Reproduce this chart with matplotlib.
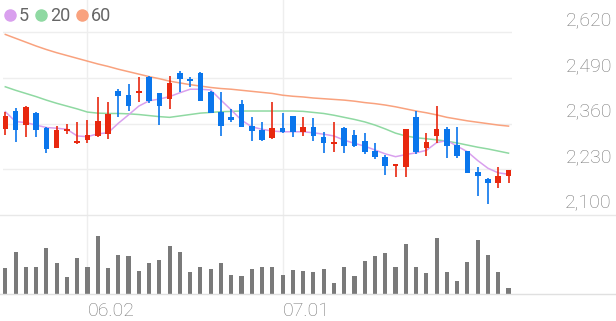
import matplotlib
matplotlib.use("Agg")
import matplotlib.pyplot as plt
import matplotlib.transforms as mtransforms
from matplotlib.lines import Line2D
import numpy as np

plt.rcParams['font.family'] = ['Roboto', 'DejaVu Sans']

# daily candles (open, high, low, close)
opens = [2345, 2397, 2356, 2391, 2347, 2290, 2340, 2304, 2313, 2325,
         2331, 2454, 2441, 2446, 2492, 2446, 2430, 2503, 2487, 2503,
         2451, 2392, 2380, 2416, 2353, 2342, 2318, 2347, 2382, 2337,
         2351, 2323, 2301, 2347, 2328, 2311, 2282, 2266, 2240, 2236,
         2378, 2290, 2325, 2344, 2299, 2282, 2221, 2202, 2190, 2211]
highs = [2393, 2404, 2410, 2394, 2350, 2353, 2359, 2366, 2370, 2437,
         2421, 2458, 2473, 2492, 2496, 2448, 2496, 2511, 2492, 2506,
         2454, 2451, 2401, 2427, 2378, 2366, 2421, 2389, 2382, 2378,
         2377, 2335, 2366, 2350, 2342, 2332, 2306, 2271, 2242, 2344,
         2397, 2332, 2411, 2350, 2350, 2282, 2236, 2204, 2236, 2228]
lows = [2327, 2309, 2323, 2323, 2277, 2290, 2330, 2302, 2306, 2323,
        2315, 2380, 2397, 2422, 2418, 2356, 2402, 2451, 2463, 2424,
        2389, 2326, 2366, 2350, 2311, 2311, 2316, 2334, 2321, 2326,
        2311, 2277, 2280, 2277, 2294, 2274, 2258, 2214, 2207, 2207,
        2275, 2268, 2304, 2263, 2261, 2219, 2154, 2131, 2176, 2192]
closes = [2383, 2342, 2406, 2342, 2287, 2342, 2345, 2311, 2328, 2367,
          2387, 2440, 2410, 2454, 2425, 2410, 2477, 2486, 2481, 2425,
          2389, 2354, 2370, 2350, 2340, 2313, 2347, 2335, 2335, 2351,
          2325, 2306, 2309, 2296, 2296, 2278, 2266, 2240, 2242, 2344,
          2278, 2309, 2344, 2296, 2269, 2219, 2211, 2190, 2212, 2228]
volumes = [77, 125, 82, 82, 138, 92, 52, 109, 80, 173,
           79, 118, 113, 70, 92, 102, 144, 125, 67, 82,
           76, 92, 58, 55, 75, 80, 80, 57, 71, 69,
           67, 76, 33, 82, 55, 100, 115, 123, 81, 150,
           82, 64, 169, 65, 39, 95, 162, 117, 65, 18]

# moving averages as shown on the chart
ma5 = [2394, 2366, 2363, 2356, 2349, 2347, 2344, 2325, 2323, 2331,
       2334, 2361, 2385, 2410, 2425, 2430, 2437, 2448, 2458, 2458,
       2456, 2427, 2399, 2370, 2351, 2344, 2339, 2337, 2337, 2337,
       2334, 2330, 2325, 2313, 2304, 2296, 2285, 2274, 2266, 2272,
       2277, 2284, 2306, 2312, 2296, 2280, 2255, 2233, 2220, 2216]
ma20 = [2465, 2455, 2446, 2437, 2427, 2418, 2410, 2402, 2393, 2390,
        2389, 2389, 2388, 2386, 2383, 2380, 2378, 2382, 2386, 2390,
        2392, 2394, 2395, 2396, 2396, 2396, 2396, 2396, 2396, 2395,
        2392, 2389, 2384, 2378, 2372, 2365, 2356, 2345, 2333, 2325,
        2320, 2317, 2314, 2310, 2305, 2299, 2293, 2288, 2282, 2276]
ma60 = [2614, 2603, 2592, 2581, 2571, 2562, 2554, 2546, 2538, 2530,
        2523, 2515, 2508, 2501, 2494, 2488, 2481, 2476, 2471, 2467,
        2463, 2460, 2458, 2455, 2452, 2449, 2446, 2441, 2438, 2436,
        2433, 2431, 2429, 2427, 2424, 2420, 2417, 2413, 2408, 2402,
        2396, 2391, 2385, 2378, 2373, 2368, 2364, 2360, 2356, 2353]

date_ticks = [8, 27]
date_labels = ['06.02', '07.01']
price_ticks = [2100, 2230, 2360, 2490, 2620]

UP = '#e8280f'
DOWN = '#0a76ec'
GRID = '#eeeeee'
TEXT = '#777777'

W, H = 616, 321
fig = plt.figure(figsize=(W / 100, H / 100), dpi=100)

x0, x1 = 3 / W, 512 / W
ax = fig.add_axes([x0, 1 - 215 / H, x1 - x0, 215 / H])
axv = fig.add_axes([x0, 1 - 294 / H, x1 - x0, 79 / H], sharex=ax)

x = np.arange(len(closes))
o = np.array(opens)
c = np.array(closes)
colors = [UP if cc >= oo else DOWN for oo, cc in zip(o, c)]
bottoms = np.minimum(o, c)
heights = np.maximum(np.abs(c - o), 5)

for a in (ax, axv):
    for s in a.spines.values():
        s.set_visible(False)
    a.set_yticks([])
    a.tick_params(length=0)
    for t in date_ticks:
        a.axvline(t, color=GRID, lw=1, zorder=0)

for p in price_ticks[1:]:
    ax.axhline(p, color=GRID, lw=1, zorder=0)

ax.plot(x, ma60, color='#f9a27e', lw=1.1, zorder=1)
ax.plot(x, ma20, color='#8fd9a2', lw=1.1, zorder=1)
ax.plot(x, ma5, color='#d9a0ee', lw=1.1, zorder=1)

ax.vlines(x, lows, highs, colors=colors, lw=1.2, zorder=2)
ax.bar(x, heights, bottom=bottoms, width=0.55, color=colors, zorder=3)

ax.set_ylim(2100, 2712)
ax.set_xlim(-0.224, 49.34)
ax.tick_params(axis='x', labelbottom=False)

# price labels on the right, sitting above their gridlines
trans = mtransforms.blended_transform_factory(fig.transFigure, ax.transData)
trans = mtransforms.offset_copy(trans, fig=fig, y=7, units='dots')
for p in price_ticks:
    ax.text(612 / W, p, f'{p:,}', transform=trans, ha='right', va='baseline',
            fontsize=14, color=TEXT, fontweight='light', clip_on=False)

axv.bar(x, volumes, width=0.4, color='#7a7a7a', zorder=2)
axv.set_ylim(0, 237)
axv.set_xticks(date_ticks)
axv.set_xticklabels(date_labels)
axv.tick_params(axis='x', pad=5.5, labelsize=14, labelcolor=TEXT)
for lbl in axv.get_xticklabels():
    lbl.set_ha('left')
    lbl.set_fontweight('light')

# panel borders that run across the full width
fig.add_artist(Line2D([0, 1], [1 - 215 / H, 1 - 215 / H], color='#e8e8e8', lw=1))
fig.add_artist(Line2D([0, 1], [1 - 294 / H, 1 - 294 / H], color='#e0e0e0', lw=1))

handles = [Line2D([], [], marker='o', ls='', color=col, markersize=8)
           for col in ('#d9a0ee', '#8fd9a2', '#f9a27e')]
leg = fig.legend(handles, ['5', '20', '60'], loc='upper left',
                 bbox_to_anchor=(-2 / W, 1), ncol=3, frameon=False,
                 handlelength=0.5, handletextpad=0.25, columnspacing=0.4,
                 fontsize=13, labelcolor='#666666', borderaxespad=0)

fig.savefig('out.png', dpi=100)
